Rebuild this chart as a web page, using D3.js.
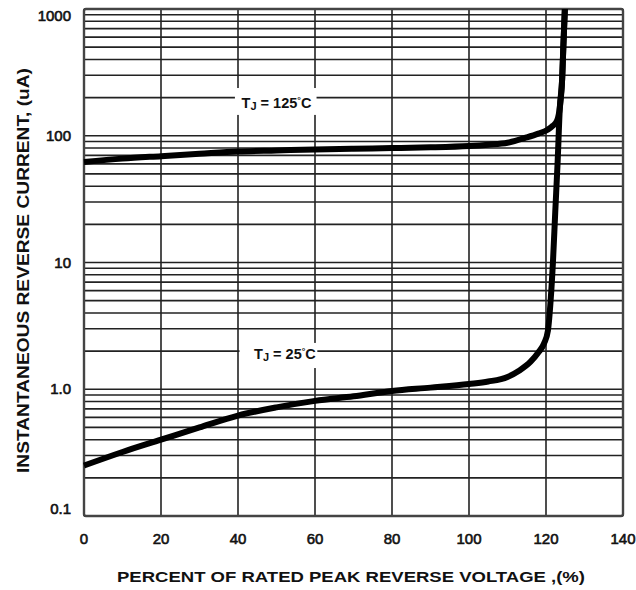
<!DOCTYPE html>
<html><head><meta charset="utf-8">
<script src="https://cdn.jsdelivr.net/npm/d3@7"></script>
<style>body{margin:0;background:#fff}svg{display:block}</style>
</head><body>
<svg id="c" width="636" height="590"></svg>
<script>
const xTicks = [0, 20, 40, 60, 80, 100, 120, 140];
const yTicks = [0.1, 1, 10, 100, 1000];
const yTickLabels = ["0.1", "1.0", "10", "100", "1000"];
const x125 = [0, 10, 20, 30, 40, 50, 60, 70, 80, 90, 100, 105, 110, 115, 118, 120.3, 121.8, 122.9, 123.6, 124.2, 124.5, 124.9];
const y125 = [62, 66, 69, 72, 75, 76.5, 78, 79, 80, 81, 83, 85, 88, 97, 104, 111, 120, 132, 168, 282, 500, 1000];
const x25 = [0, 10, 20, 30, 40, 50, 60, 70, 80, 90, 100, 105, 110, 113, 116, 118, 119.5, 120.5, 121.2, 121.8, 122.4, 123, 123.6, 124.2, 124.5, 124.9];
const y25 = [0.25, 0.32, 0.40, 0.50, 0.62, 0.72, 0.81, 0.88, 0.97, 1.03, 1.1, 1.15, 1.25, 1.4, 1.65, 1.95, 2.3, 2.9, 5, 10, 25, 60, 168, 282, 500, 1000];
const labels = [{t: "125", x: 50, y: 166}, {t: "25", x: 52.2, y: 1.73}];

const svg = d3.select("#c");
const L = 84, R = 623, T = 9, B = 516;
const x = d3.scaleLinear().domain([0, 140]).range([L, R]);
const y = d3.scaleLog().domain([0.1, 1000]).range([B, T]);

// grid
const minor = [];
for (let e = -1; e < 3; e++) for (let m = 1; m <= 9; m++) minor.push(m * Math.pow(10, e));
minor.push(1000);
const g = svg.append("g");
g.selectAll("line.h").data(minor).join("line")
  .attr("x1", L).attr("x2", R).attr("y1", d => y(d)).attr("y2", d => y(d))
  .attr("stroke", "#222").attr("stroke-width", 1.6);
g.selectAll("line.v").data(xTicks).join("line")
  .attr("y1", T).attr("y2", B).attr("x1", d => x(d)).attr("x2", d => x(d))
  .attr("stroke", "#222").attr("stroke-width", 1.6);

// label boxes
const boxes = [
  {x0: 39.2, x1: 60.4, y0: 238, y1: 146},
  {x0: 40.4, x1: 60.6, y0: 2.32, y1: 1.47}
];
svg.selectAll("rect.box").data(boxes).join("rect")
  .attr("x", d => x(d.x0)).attr("width", d => x(d.x1) - x(d.x0))
  .attr("y", d => y(d.y0)).attr("height", d => y(d.y1) - y(d.y0))
  .attr("fill", "#fff");

// frame
svg.append("rect").attr("x", L).attr("y", T).attr("width", R - L).attr("height", B - T)
  .attr("fill", "none").attr("stroke", "#444").attr("stroke-width", 2.4).attr("rx", 2);

// curves
const line = d3.line().x(d => x(d[0])).y(d => y(d[1])).curve(d3.curveMonotoneX);
svg.append("path").datum(x125.map((v, i) => [v, y125[i]]))
  .attr("d", line).attr("fill", "none").attr("stroke", "#000").attr("stroke-width", 6).attr("stroke-linejoin", "round");
svg.append("path").datum(x25.map((v, i) => [v, y25[i]]))
  .attr("d", line).attr("fill", "none").attr("stroke", "#000").attr("stroke-width", 6).attr("stroke-linejoin", "round");

const font = "'Liberation Sans', Arial, Helvetica, sans-serif";
// curve labels
labels.forEach(l => {
  const t = svg.append("text").attr("x", x(l.x)).attr("y", y(l.y)).attr("text-anchor", "middle")
    .attr("font-family", font).attr("font-weight", "bold").attr("font-size", 14.5).attr("fill", "#111");
  t.append("tspan").text("T");
  t.append("tspan").attr("font-size", 11).attr("dy", 2).text("J");
  t.append("tspan").attr("dy", -2).text(" = " + l.t);
  t.append("tspan").attr("font-size", 9).attr("dy", -5).text("°");
  t.append("tspan").attr("dy", 5).text("C");
});

// tick labels
svg.selectAll("text.xt").data(xTicks).join("text")
  .attr("x", d => x(d)).attr("y", 544).attr("text-anchor", "middle")
  .attr("font-family", font).attr("font-size", 15).attr("fill", "#111")
  .attr("stroke", "#111").attr("stroke-width", 0.6).text(d => d);
svg.selectAll("text.yt").data(yTicks).join("text")
  .attr("x", 71).attr("y", (d, i) => Math.min(Math.max(y(d) + 5, 21), 514))
  .attr("text-anchor", "end")
  .attr("font-family", font).attr("font-size", 15).attr("fill", "#111")
  .attr("stroke", "#111").attr("stroke-width", 0.6).text((d, i) => yTickLabels[i]);

// axis titles
svg.append("text").attr("x", 117).attr("y", 582)
  .attr("font-family", font).attr("font-weight", "bold").attr("font-size", 15).attr("fill", "#111")
  .attr("textLength", 468).attr("lengthAdjust", "spacingAndGlyphs")
  .text("PERCENT OF RATED PEAK REVERSE VOLTAGE ,(%)");
svg.append("text").attr("transform", "translate(29,473) rotate(-90)")
  .attr("font-family", font).attr("font-weight", "bold").attr("font-size", 16).attr("fill", "#111")
  .attr("textLength", 405).attr("lengthAdjust", "spacingAndGlyphs")
  .text("INSTANTANEOUS REVERSE CURRENT, (uA)");
</script>
</body></html>
